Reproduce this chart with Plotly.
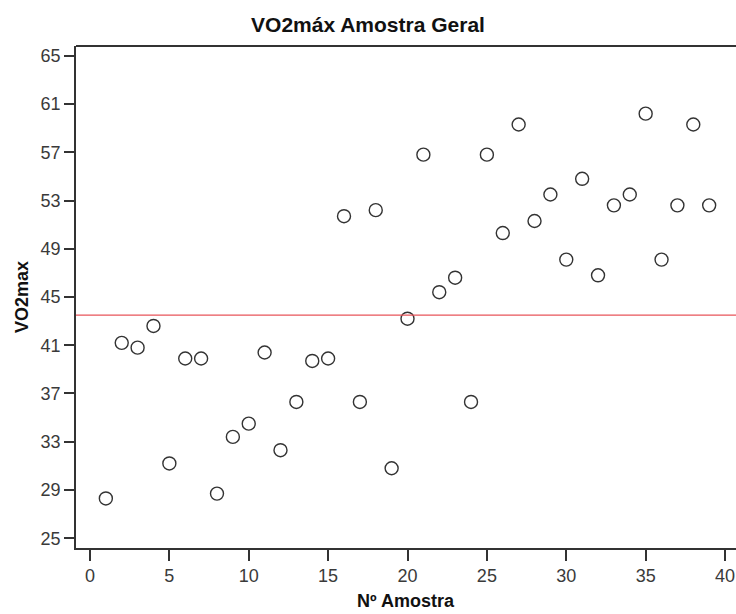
import plotly.graph_objects as go

# Data
sample_no = list(range(1, 40))
vo2max = [28.3, 41.2, 40.8, 42.6, 31.2, 39.9, 39.9, 28.7, 33.4, 34.5,
          40.4, 32.3, 36.3, 39.7, 39.9, 51.7, 36.3, 52.2, 30.8, 43.2,
          56.8, 45.4, 46.6, 36.3, 56.8, 50.3, 59.3, 51.3, 53.5, 48.1,
          54.8, 46.8, 52.6, 53.5, 60.2, 48.1, 52.6, 59.3, 52.6]
reference_line = 43.5
y_ticks = [25, 29, 33, 37, 41, 45, 49, 53, 57, 61, 65]
x_ticks = [0, 5, 10, 15, 20, 25, 30, 35, 40]

title_text = "VO2máx Amostra Geral"
x_title = "Nº Amostra"
y_title = "VO2max"

FONT = "Liberation Sans, Arial, sans-serif"
AX = "#333333"

fig = go.Figure()
fig.add_trace(go.Scatter(
    x=sample_no, y=vo2max, mode="markers",
    marker=dict(symbol="circle-open", size=13, color="#333333",
                line=dict(width=1.4, color="#333333")),
    showlegend=False, hoverinfo="x+y",
))

fig.add_shape(type="line", xref="paper", x0=0, x1=1, yref="y",
              y0=reference_line, y1=reference_line,
              line=dict(color="#e8555a", width=1.4))
# top frame line
fig.add_shape(type="line", xref="paper", yref="paper", x0=0, x1=1, y0=1, y1=1,
              line=dict(color=AX, width=2))

fig.update_layout(
    width=736, height=614,
    margin=dict(l=76, r=0, t=46, b=66),
    paper_bgcolor="white", plot_bgcolor="white",
    font=dict(family=FONT, color=AX),
    title=dict(text="<b>" + title_text + "</b>", x=0.5, xref="container", xanchor="center",
               y=1 - 25 / 614, yref="container", yanchor="middle",
               font=dict(family=FONT, size=21, color="#111111")),
    xaxis=dict(range=[-0.88, 40.69], tickvals=x_ticks, ticktext=[str(v) for v in x_ticks],
               showgrid=False, zeroline=False, showline=True, linecolor=AX, linewidth=1.5,
               ticks="outside", ticklen=11, tickwidth=1.5, tickcolor=AX,
               tickfont=dict(family=FONT, size=18, color="#3a3a3a")),
    yaxis=dict(range=[24.19, 65.81], tickvals=y_ticks, ticktext=[str(v) for v in y_ticks],
               showgrid=False, zeroline=False, showline=True, linecolor=AX, linewidth=1.5,
               ticks="outside", ticklen=10, tickwidth=1.5, tickcolor=AX,
               tickfont=dict(family=FONT, size=18, color="#3a3a3a")),
    annotations=[
        dict(text="<b>" + x_title + "</b>", xref="paper", yref="paper", x=0.5, y=-0.106,
             xanchor="center", yanchor="middle", showarrow=False,
             font=dict(family=FONT, size=18, color="#111111")),
        dict(text="<b>" + y_title + "</b>", xref="paper", yref="paper", x=-0.0818, y=0.5,
             xanchor="center", yanchor="middle", showarrow=False, textangle=-90,
             font=dict(family=FONT, size=18, color="#111111")),
    ],
)

fig.write_html("out.html")
